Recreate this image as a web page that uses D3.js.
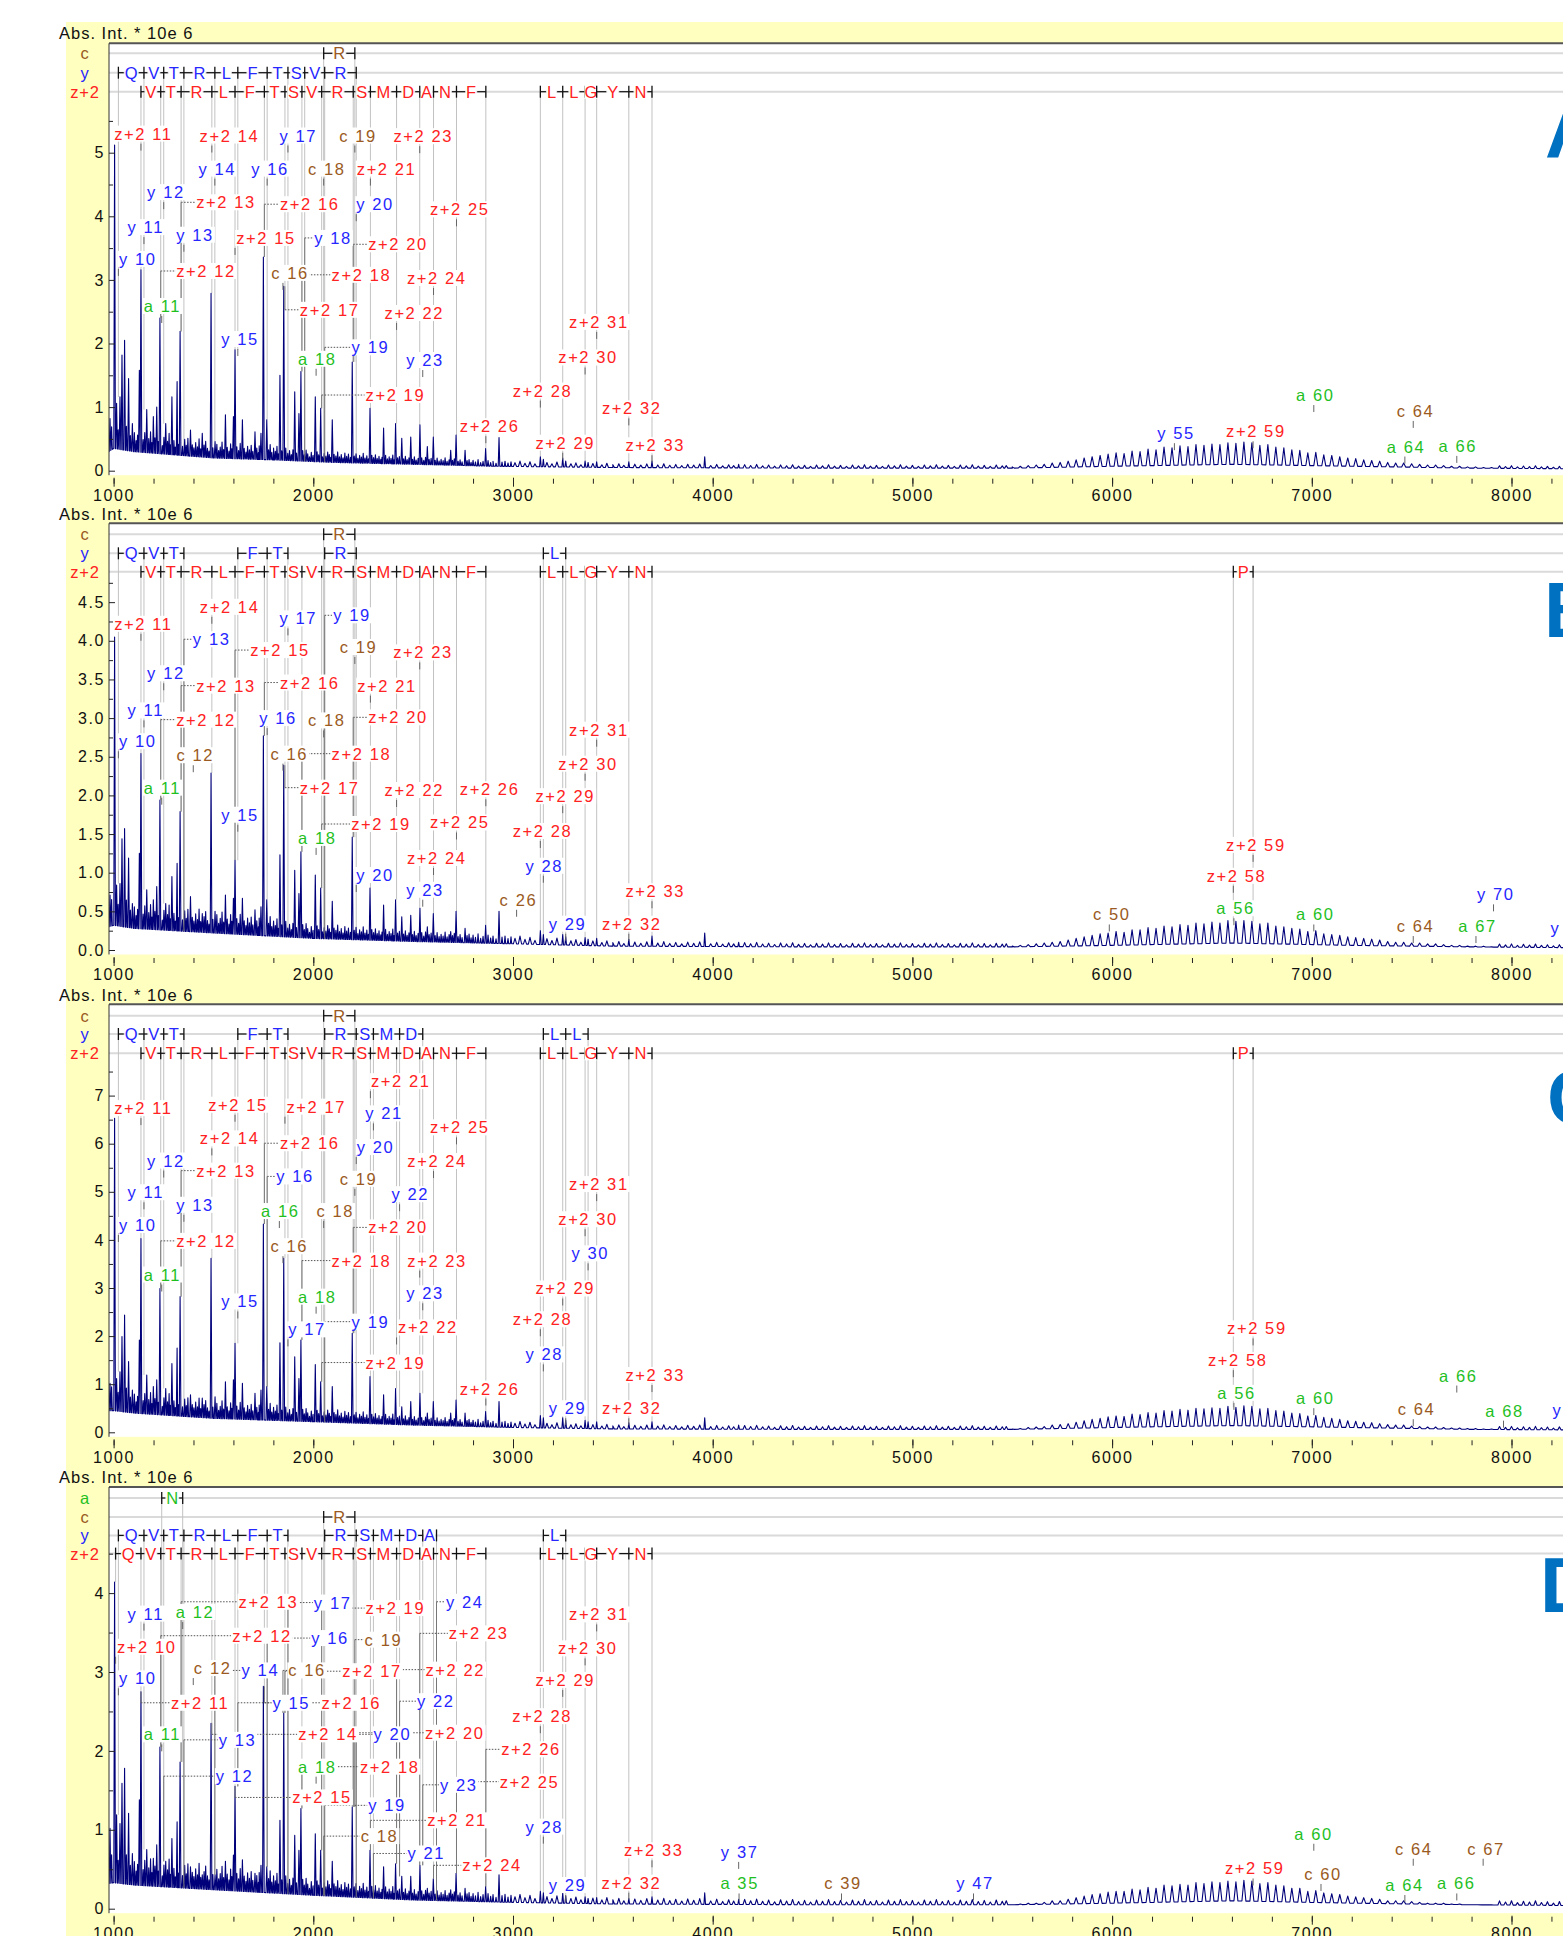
<!DOCTYPE html>
<html lang="en">
<head>
<meta charset="UTF-8">
<title>Fragment ion spectra A-D</title>
<script src="https://d3js.org/d3.v7.min.js"></script>
<style>
  body { margin: 0; background: #fff; }
  svg { display: block; font-family: "Liberation Sans", Arial, sans-serif; }
</style>
</head>
<body>
<script>
const zIons = {10:1010, 11:1137, 12:1236, 13:1338, 14:1492, 15:1608, 16:1755, 17:1858, 18:1943, 19:2042, 20:2200,
  21:2286, 22:2417, 23:2533, 24:2602, 25:2717, 26:2864, 28:3137, 29:3249, 30:3361, 31:3419, 32:3580, 33:3696, 58:6607, 59:6706};
const yIons = {10:1024, 11:1152, 12:1251, 13:1352, 14:1507, 15:1622, 16:1769, 17:1873, 18:1957, 19:2057, 20:2215,
  21:2301, 22:2432, 23:2548, 24:2617, 28:3152, 29:3264, 30:3376, 37:4130, 47:5306, 55:6312, 70:7910, 73:8290};
const cIons = {12:1399, 16:1848, 18:2052, 19:2208, 26:3018, 39:4645, 50:5986, 60:7046, 64:7508, 67:7858};
const aIons = {11:1241, 12:1346, 16:1830, 18:2014, 35:4132, 56:6610, 60:7010, 64:7466, 66:7726, 67:7822, 68:7960};

// residue letter shown between ion n-1 and ion n
const zyResidues = {11:"Q", 12:"V", 13:"T", 14:"R", 15:"L", 16:"F", 17:"T", 18:"S", 19:"V", 20:"R", 21:"S", 22:"M",
  23:"D", 24:"A", 25:"N", 26:"F", 29:"L", 30:"L", 31:"G", 32:"Y", 33:"N", 59:"P"};
const cResidues = {19:"R"};
const aResidues = {12:"N"};

// ions marked in the sequence rows of each panel
const rowsA = {c:[18,19], y:[10,11,12,13,14,15,16,17,18,19,20],
  z:[11,12,13,14,15,16,17,18,19,20,21,22,23,24,25,26,28,29,30,31,32,33]};
const rowsB = {c:[18,19], y:[10,11,12,13,15,16,17,19,20,28,29],
  z:[11,12,13,14,15,16,17,18,19,20,21,22,23,24,25,26,28,29,30,31,32,33,58,59]};
const rowsC = {c:[18,19], y:[10,11,12,13,15,16,17,19,20,21,22,23,28,29,30],
  z:[11,12,13,14,15,16,17,18,19,20,21,22,23,24,25,26,28,29,30,31,32,33,58,59]};
const rowsD = {a:[11,12], c:[18,19], y:[10,11,12,13,14,15,16,17,19,20,21,22,23,24,28,29],
  z:[10,11,12,13,14,15,16,17,18,19,20,21,22,23,24,25,26,28,29,30,31,32,33]};

// ---------- spectra ----------
const forestMz = [982, 1005, 1015, 1032, 1042, 1055, 1075, 1094, 1129, 1137, 1166, 1199, 1216, 1232, 1261, 1292,
  1318, 1333, 1385, 1444, 1488, 1508, 1560, 1600, 1608, 1645, 1708, 1738, 1750, 1767, 1833, 1852, 1907, 1928, 1938,
  2010, 2037, 2095, 2195, 2284, 2352, 2412, 2443, 2488, 2534, 2571, 2601, 2688, 2715, 2760, 2863, 2930,
  3137, 3152, 3249, 3264, 3361, 3376, 3419, 3580, 3696, 3960, 4130];
const forestA = [0.82, 5.12, 1.06, 1.16, 1.82, 2.05, 1.45, 0.74, 1.58, 3.16, 0.96, 0.85, 1.0, 2.4, 0.74, 1.16,
  1.4, 2.19, 0.64, 0.59, 2.79, 0.46, 0.88, 0.85, 1.9, 0.8, 0.61, 0.59, 3.36, 0.8, 1.5, 2.9, 1.24, 0.9, 1.56,
  1.16, 0.98, 0.8, 1.71, 0.98, 0.67, 0.74, 0.51, 0.53, 0.72, 0.38, 0.53, 0.32, 0.56, 0.32, 0.35, 0.52,
  0.22, 0.18, 0.2, 0.15, 0.15, 0.13, 0.14, 0.14, 0.15, 0.22, 0.1];
const forestB = [0.71, 4.05, 0.84, 0.86, 1.44, 1.57, 1.19, 0.6, 1.25, 2.54, 0.78, 0.65, 0.82, 1.94, 0.6, 0.95,
  1.12, 1.79, 0.69, 0.47, 2.29, 0.5, 0.71, 0.67, 1.16, 0.67, 0.52, 0.56, 2.77, 0.65, 1.23, 2.39, 1.03, 0.73, 1.27,
  0.97, 0.8, 0.63, 1.46, 0.8, 0.58, 0.65, 0.43, 0.45, 0.54, 0.3, 0.47, 0.24, 0.5, 0.28, 0.32, 0.5,
  0.25, 0.2, 0.2, 0.17, 0.16, 0.14, 0.15, 0.14, 0.18, 0.22, 0.1];
const forestC = [1.02, 6.53, 1.12, 1.26, 1.99, 2.44, 1.47, 0.88, 1.92, 4.03, 1.19, 0.95, 1.09, 2.99, 0.91, 1.43,
  1.75, 2.82, 0.78, 0.71, 3.62, 0.74, 1.05, 1.09, 1.85, 1.02, 0.81, 0.88, 4.33, 0.95, 1.86, 3.62, 1.57, 1.12, 1.92,
  1.41, 1.05, 0.95, 2.06, 1.16, 0.78, 0.91, 0.53, 0.64, 0.81, 0.4, 0.64, 0.4, 0.67, 0.4, 0.43, 0.64,
  0.35, 0.3, 0.3, 0.25, 0.25, 0.22, 0.22, 0.2, 0.22, 0.3, 0.15];
const forestD = [1.02, 4.14, 1.19, 1.08, 1.59, 1.78, 1.21, 0.7, 1.38, 2.75, 0.75, 0.64, 0.81, 2.05, 0.6, 0.89,
  1.1, 1.86, 0.53, 0.43, 2.35, 0.43, 0.6, 0.68, 1.55, 0.62, 0.45, 0.55, 2.82, 0.53, 1.12, 2.48, 0.93, 0.74, 1.27,
  0.95, 0.74, 0.6, 1.29, 0.74, 0.53, 0.57, 0.41, 0.41, 0.55, 0.26, 0.38, 0.24, 0.45, 0.26, 0.28, 0.43,
  0.22, 0.2, 0.2, 0.16, 0.15, 0.13, 0.14, 0.13, 0.15, 0.2, 0.12];

// the broad envelope of the intact species
const combMz = [5500, 5540, 5580, 5620, 5660, 5700, 5740, 5780, 5820, 5860, 5900, 5940, 5980, 6020, 6060, 6100,
  6140, 6180, 6220, 6260, 6300, 6340, 6380, 6420, 6460, 6500, 6540, 6580, 6620, 6660, 6700, 6740, 6780, 6820,
  6860, 6900, 6940, 6980, 7020, 7060, 7100, 7140, 7180, 7220, 7260, 7300, 7340, 7380, 7420, 7460, 7500, 7540,
  7580, 7620, 7660, 7700, 7740, 7780, 7820, 7860, 7900];
const combA = [0.06, 0.07, 0.08, 0.09, 0.1, 0.12, 0.13, 0.15, 0.17, 0.2, 0.22, 0.24, 0.26, 0.28, 0.27, 0.31,
  0.3, 0.34, 0.33, 0.37, 0.36, 0.39, 0.38, 0.41, 0.4, 0.42, 0.41, 0.44, 0.43, 0.45, 0.44, 0.4, 0.41, 0.37,
  0.36, 0.33, 0.32, 0.28, 0.29, 0.25, 0.24, 0.22, 0.2, 0.19, 0.17, 0.16, 0.15, 0.13, 0.12, 0.12, 0.11, 0.1,
  0.09, 0.09, 0.08, 0.07, 0.07, 0.06, 0.06, 0.05, 0.05];
const combB = [0.05, 0.06, 0.07, 0.08, 0.09, 0.1, 0.11, 0.13, 0.15, 0.17, 0.19, 0.21, 0.22, 0.24, 0.23, 0.26,
  0.26, 0.29, 0.28, 0.31, 0.3, 0.33, 0.32, 0.35, 0.34, 0.36, 0.35, 0.38, 0.37, 0.38, 0.37, 0.34, 0.35, 0.31,
  0.3, 0.28, 0.27, 0.24, 0.25, 0.21, 0.2, 0.19, 0.17, 0.16, 0.15, 0.14, 0.13, 0.11, 0.1, 0.1, 0.09, 0.09,
  0.08, 0.08, 0.07, 0.06, 0.06, 0.05, 0.05, 0.05, 0.04];
const combC = [0.07, 0.08, 0.1, 0.11, 0.12, 0.15, 0.16, 0.18, 0.21, 0.24, 0.27, 0.29, 0.32, 0.34, 0.33, 0.38,
  0.37, 0.41, 0.4, 0.45, 0.44, 0.48, 0.46, 0.5, 0.49, 0.51, 0.5, 0.54, 0.52, 0.55, 0.54, 0.49, 0.5, 0.45,
  0.44, 0.4, 0.39, 0.34, 0.35, 0.31, 0.29, 0.27, 0.24, 0.23, 0.21, 0.2, 0.18, 0.16, 0.15, 0.15, 0.13, 0.12,
  0.11, 0.11, 0.1, 0.09, 0.09, 0.08, 0.08, 0.07, 0.07];
const combD = [0.05, 0.06, 0.07, 0.07, 0.08, 0.1, 0.1, 0.12, 0.14, 0.16, 0.18, 0.19, 0.21, 0.22, 0.22, 0.25,
  0.24, 0.27, 0.26, 0.3, 0.29, 0.31, 0.3, 0.33, 0.32, 0.34, 0.33, 0.35, 0.34, 0.36, 0.35, 0.32, 0.33, 0.3,
  0.29, 0.26, 0.26, 0.22, 0.23, 0.2, 0.19, 0.18, 0.16, 0.15, 0.14, 0.13, 0.12, 0.1, 0.1, 0.1, 0.09, 0.08,
  0.07, 0.07, 0.07, 0.06, 0.06, 0.05, 0.05, 0.05, 0.05];

// noise floor level, [m/z, intensity]
const baseA = [[977,0.3],[1000,0.35],[1100,0.3],[1300,0.25],[1500,0.2],[1800,0.17],[2100,0.13],[2500,0.1],
  [2900,0.07],[3500,0.05],[4500,0.04],[5500,0.04],[6000,0.07],[6600,0.1],[7200,0.07],[7800,0.04],[8300,0.03]];
const baseB = [[977,0.3],[1000,0.32],[1100,0.28],[1500,0.22],[2000,0.15],[2500,0.11],[3000,0.08],[3500,0.05],
  [4500,0.04],[5500,0.04],[6000,0.06],[6600,0.09],[7200,0.06],[7800,0.04],[8300,0.03]];
const baseC = [[977,0.45],[1000,0.45],[1100,0.4],[1500,0.29],[2000,0.22],[2500,0.15],[3000,0.1],[3500,0.07],
  [4500,0.06],[5500,0.06],[6000,0.1],[6600,0.14],[7200,0.1],[7800,0.06],[8300,0.05]];
const baseD = [[977,0.32],[1000,0.33],[1100,0.3],[1500,0.24],[2000,0.17],[2500,0.11],[3000,0.08],[3500,0.06],
  [4500,0.05],[5500,0.05],[6000,0.07],[6600,0.1],[7200,0.07],[7800,0.05],[8300,0.04]];

// small spikes on the noise floor, [m/z, height relative to floor]
const grass = [[990,1.1],[1023,0.9],[1064,1.2],[1084,0.8],[1104,1.0],[1113,0.6],[1120,0.9],[1148,0.7],[1156,1.1],
  [1176,0.8],[1185,1.2],[1192,0.6],[1207,0.9],[1224,0.7],[1244,0.5],[1252,1.0],[1270,0.8],[1278,1.3],[1284,0.6],
  [1302,0.9],[1309,0.5],[1324,0.7],[1345,0.6],[1356,1.1],[1364,0.7],[1372,1.2],[1394,0.8],[1402,0.6],[1411,1.0],
  [1420,0.7],[1428,1.3],[1436,0.6],[1453,0.9],[1461,1.2],[1470,0.7],[1478,0.5],[1497,0.8],[1517,1.1],[1526,0.6],
  [1534,0.9],[1543,1.3],[1551,0.7],[1569,0.9],[1578,0.6],[1586,1.2],[1592,0.8],[1617,1.0],[1626,0.7],[1634,1.3],
  [1654,0.9],[1663,0.6],[1671,1.1],[1680,0.8],[1689,1.2],[1697,0.7],[1717,1.0],[1725,0.6],[1729,1.2],[1776,0.9],
  [1784,1.4],[1792,0.7],[1801,1.1],[1810,0.8],[1818,1.3],[1825,0.6],[1842,0.9],[1862,1.2],[1872,0.7],[1881,1.0],
  [1890,0.6],[1898,1.1],[1916,0.8],[1947,1.1],[1955,0.7],[1964,1.2],[1972,0.8],[1981,0.5],[1990,1.0],[1999,0.7],
  [2019,1.1],[2027,0.8],[2046,0.6],[2055,1.0],[2063,0.7],[2072,1.2],[2080,0.9],[2087,0.6],[2104,1.0],[2113,0.8],
  [2122,1.3],[2131,0.7],[2140,1.0],[2149,0.6],[2158,1.2],[2167,0.8],[2176,1.1],[2186,0.7],[2205,0.9],[2214,1.2],
  [2223,0.6],[2232,1.0],[2241,0.8],[2250,1.3],[2259,0.7],[2268,1.0],[2276,0.6],[2293,1.1],[2302,0.8],[2311,1.2],
  [2320,0.7],[2329,1.0],[2338,0.6],[2344,0.9],[2362,1.2],[2371,0.7],[2380,1.0],[2389,0.8],[2398,1.3],[2404,0.6],
  [2422,0.9],[2431,1.1],[2452,0.8],[2461,1.2],[2470,0.7],[2479,1.0],[2497,0.8],[2506,1.2],[2515,0.7],[2525,1.0],
  [2543,1.1],[2553,0.7],[2562,1.2],[2580,0.9],[2590,1.1],[2610,0.8],[2620,1.2],[2630,0.7],[2640,1.0],[2650,0.8],
  [2660,1.3],[2670,0.7],[2680,1.0],[2697,0.9],[2706,1.2],[2725,0.8],[2735,1.1],[2745,0.7],[2770,1.0],[2780,1.2],
  [2790,0.7],[2800,1.1],[2812,0.8],[2825,1.3],[2838,0.7],[2850,1.0],[2875,1.2],[2888,0.8],[2900,1.1],[2915,0.7],
  [2945,1.0],[2960,1.2],[2975,0.8],[2990,1.1],[3010,0.9],[3035,1.3],[3060,0.8],[3085,1.2],[3110,0.7],[3170,1.1],
  [3195,0.8],[3220,1.3],[3290,0.9],[3315,1.2],[3340,0.7],[3400,1.1],[3445,0.8],[3470,1.3],[3500,0.9],[3530,1.2],
  [3555,0.7],[3610,1.1],[3640,0.8],[3670,1.2],[3725,0.9],[3755,1.3],[3785,0.8],[3815,1.1],[3845,0.7],[3875,1.2],
  [3905,0.9],[3935,1.3],[3990,0.8],[4020,1.2],[4050,0.7],[4080,1.1],[4105,0.8],[4160,1.2],[4190,0.9],[4220,1.3],
  [4250,0.8],[4280,1.1],[4310,0.7],[4340,1.2],[4370,0.9],[4400,1.3],[4430,0.8],[4460,1.1],[4490,0.7],[4520,1.2],
  [4550,0.9],[4580,1.3],[4610,0.8],[4640,1.1],[4670,0.7],[4700,1.2],[4730,0.9],[4760,1.3],[4790,0.8],[4820,1.1],
  [4850,0.7],[4880,1.2],[4910,0.9],[4940,1.3],[4970,0.8],[5000,1.1],[5030,0.7],[5060,1.2],[5090,0.9],[5120,1.3],
  [5150,0.8],[5180,1.1],[5210,0.7],[5240,1.2],[5270,0.9],[5300,1.3],[5330,0.8],[5360,1.1],[5390,0.7],[5420,1.2],
  [5450,0.9],[5470,1.0],[7940,1.1],[7970,0.8],[8000,1.2],[8030,0.7],[8060,1.1],[8090,0.9],[8120,1.3],[8150,0.8],
  [8180,1.1],[8210,0.7],[8240,1.2],[8270,0.9]];

// ---------- peak annotations: [ion type, number, label level, label centre m/z, dotted leader] ----------
const labelsA = [
  ["z",11,5.3,1149], ["z",14,5.27,1580], ["y",17,5.27,1925], ["c",19,5.27,2224], ["z",23,5.26,2551],
  ["y",14,4.75,1519], ["y",16,4.75,1783], ["c",18,4.75,2067], ["z",21,4.75,2367],
  ["y",12,4.38,1262], ["z",13,4.22,1563,1], ["z",16,4.19,1982,1], ["y",20,4.19,2309], ["z",25,4.11,2733],
  ["y",11,3.83,1161], ["y",13,3.71,1408], ["z",15,3.66,1763], ["y",18,3.66,2099,1], ["z",20,3.56,2424,1],
  ["y",10,3.33,1121], ["z",12,3.14,1463,1], ["c",16,3.11,1883], ["z",18,3.08,2241,1], ["z",24,3.03,2618],
  ["a",11,2.59,1244], ["z",17,2.53,2082,1], ["z",22,2.48,2506], ["z",31,2.34,3430],
  ["y",15,2.07,1633], ["y",19,1.94,2286,1], ["a",18,1.76,2020], ["y",23,1.74,2559], ["z",30,1.78,3376],
  ["z",19,1.19,2411,1], ["z",28,1.26,3148], ["z",32,0.98,3595], ["z",26,0.70,2883], ["z",29,0.44,3262],
  ["z",33,0.40,3712], ["y",55,0.59,6320], ["z",59,0.62,6720], ["a",60,1.19,7017], ["c",64,0.94,7519],
  ["a",64,0.38,7472], ["a",66,0.39,7731]];
const labelsB = [
  ["z",14,4.44,1581], ["z",11,4.22,1149], ["y",17,4.29,1925], ["y",19,4.33,2194,1], ["y",13,4.02,1491,1],
  ["z",15,3.88,1833,1], ["c",19,3.92,2226], ["z",23,3.85,2549], ["y",12,3.58,1262], ["z",13,3.42,1563,1],
  ["z",16,3.46,1982,1], ["z",21,3.42,2369], ["y",11,3.1,1161], ["z",12,2.98,1463,1], ["y",16,3.0,1823],
  ["c",18,2.97,2067], ["z",20,3.01,2424,1], ["y",10,2.7,1121], ["c",12,2.52,1409], ["c",16,2.54,1880],
  ["z",18,2.54,2241,1], ["a",11,2.1,1244], ["z",17,2.1,2082,1], ["z",22,2.07,2506], ["z",26,2.08,2883],
  ["y",15,1.75,1633], ["z",19,1.63,2339,1], ["z",25,1.65,2733], ["a",18,1.45,2020], ["z",24,1.19,2618],
  ["y",20,0.97,2309], ["y",23,0.78,2559], ["c",26,0.65,3027],
  ["z",31,2.85,3430], ["z",30,2.41,3376], ["z",29,1.99,3262], ["z",28,1.54,3148], ["y",28,1.09,3157],
  ["z",33,0.76,3712], ["y",29,0.34,3273], ["z",32,0.34,3595],
  ["c",50,0.46,5998], ["z",59,1.36,6720], ["z",58,0.96,6623], ["a",56,0.54,6618], ["a",60,0.46,7017],
  ["y",70,0.72,7921], ["c",64,0.31,7519], ["a",67,0.31,7830], ["y",73,0.29,8290]];
const labelsC = [
  ["z",21,7.3,2438], ["z",11,6.74,1149], ["z",15,6.81,1623], ["z",17,6.77,2015], ["y",21,6.63,2354],
  ["z",25,6.34,2733], ["z",14,6.11,1581], ["z",16,6.01,1982,1], ["y",20,5.93,2312], ["y",12,5.65,1262],
  ["z",24,5.64,2620], ["z",13,5.44,1563,1], ["y",16,5.32,1908,1], ["c",19,5.27,2226], ["y",22,4.95,2486],
  ["y",11,4.99,1161], ["y",13,4.73,1408], ["a",16,4.6,1835], ["c",18,4.6,2110], ["y",10,4.31,1121],
  ["z",20,4.26,2424,1], ["z",12,3.98,1463,1], ["c",16,3.87,1880], ["z",18,3.57,2241,1], ["z",23,3.57,2620],
  ["a",11,3.28,1244], ["y",23,2.89,2559], ["a",18,2.82,2020], ["y",15,2.72,1633], ["y",19,2.3,2286,1],
  ["y",17,2.14,1969], ["z",22,2.18,2574], ["z",19,1.45,2411,1], ["z",26,0.91,2883],
  ["z",31,5.16,3430], ["z",30,4.43,3376], ["y",30,3.72,3387], ["z",29,2.99,3262], ["z",28,2.35,3148],
  ["y",28,1.62,3157], ["z",33,1.19,3712], ["y",29,0.5,3273], ["z",32,0.5,3595],
  ["z",59,2.16,6725], ["z",58,1.5,6629], ["a",56,0.82,6623], ["a",60,0.71,7017], ["a",66,1.18,7734],
  ["c",64,0.48,7524], ["a",68,0.45,7965], ["y",73,0.46,8300]];
const labelsD = [
  ["z",13,3.89,1775,1], ["y",17,3.88,2097,1], ["z",19,3.81,2411,1], ["y",24,3.89,2758,1], ["y",11,3.74,1161],
  ["a",12,3.76,1408], ["z",12,3.46,1743,1], ["y",16,3.43,2084,1], ["c",19,3.41,2351,1], ["z",23,3.49,2828,1],
  ["z",10,3.32,1166], ["y",10,2.92,1121], ["c",12,3.05,1496], ["y",14,3.02,1735,1], ["c",16,3.02,1969,1],
  ["z",17,3.01,2294,1], ["z",22,3.03,2711,1], ["z",11,2.61,1433,1], ["y",15,2.61,1890,1], ["z",16,2.61,2190,1],
  ["y",22,2.63,2613,1], ["a",11,2.21,1244], ["y",13,2.14,1621,1], ["z",14,2.21,2074,1], ["y",20,2.21,2396,1],
  ["z",20,2.23,2708,1], ["y",12,1.68,1606,1], ["a",18,1.8,2020], ["z",18,1.8,2383,1], ["y",23,1.57,2728,1],
  ["z",15,1.41,2044,1], ["y",19,1.31,2369,1], ["z",21,1.12,2720,1], ["c",18,0.92,2332,1], ["y",21,0.7,2566,1],
  ["z",24,0.55,2895,1], ["z",26,2.02,3090,1], ["z",25,1.61,3083,1],
  ["z",31,3.73,3430], ["z",30,3.3,3374], ["z",29,2.9,3262], ["z",28,2.44,3146], ["y",28,1.04,3157],
  ["z",33,0.74,3705], ["y",29,0.3,3273], ["z",32,0.33,3593],
  ["y",37,0.72,4135], ["a",35,0.32,4135], ["c",39,0.32,4653], ["y",47,0.32,5314],
  ["z",59,0.51,6714], ["a",60,0.95,7009], ["c",60,0.44,7056], ["c",64,0.76,7511], ["c",67,0.76,7872],
  ["a",64,0.3,7464], ["a",66,0.32,7723]];

// axis ticks
const xTicks = [1000, 2000, 3000, 4000, 5000, 6000, 7000, 8000];
const ticksA = [0, 1, 2, 3, 4, 5];
const ticksB = [0, 0.5, 1, 1.5, 2, 2.5, 3, 3.5, 4, 4.5];
const ticksC = [0, 1, 2, 3, 4, 5, 6, 7];
const ticksD = [0, 1, 2, 3, 4];

// ---------- layout ----------
const W = 1563, H = 1936, LEFT = 109;
const panels = [
  {name:"A", titleY:33, top:43.3, rowY:{c:53.3, y:72.7, z:91.7}, y0:470.7, unit:63.6, ticks:ticksA, fmt:"d",
   rows:rowsA, labels:labelsA, forest:forestA, comb:combA, base:baseA, letter:[1545, 158]},
  {name:"B", titleY:514, top:523.3, rowY:{c:534.3, y:553.3, z:571.7}, y0:950, unit:77.3, ticks:ticksB, fmt:".1f",
   rows:rowsB, labels:labelsB, forest:forestB, comb:combB, base:baseB, letter:[1544, 637]},
  {name:"C", titleY:995, top:1004.3, rowY:{c:1015.7, y:1034, z:1053.3}, y0:1432.3, unit:48.1, ticks:ticksC, fmt:"d",
   rows:rowsC, labels:labelsC, forest:forestC, comb:combC, base:baseC, letter:[1547, 1124]},
  {name:"D", titleY:1477, top:1487, rowY:{a:1498, c:1517, y:1535.4, z:1553.6}, y0:1908.7, unit:78.9, ticks:ticksD, fmt:"d",
   rows:rowsD, labels:labelsD, forest:forestD, comb:combD, base:baseD, letter:[1540, 1612]}
];

const colors = {a:"#1fbf1f", c:"#9a5a22", y:"#2626ff", z:"#ff2222"};
const prefix = {a:"a", c:"c", y:"y", z:"z+2"};
const ionMz = {a:aIons, c:cIons, y:yIons, z:zIons};
const residues = {a:aResidues, c:cResidues, y:zyResidues, z:zyResidues};

const x = d3.scaleLinear().domain([1000, 8000]).range([113.6, 1511.5]);

const svg = d3.select("body").append("svg").attr("width", W).attr("height", H);
svg.append("rect").attr("width", W).attr("height", H).attr("fill", "#fff");
svg.append("rect").attr("x", 66).attr("y", 22).attr("width", W - 66).attr("height", H - 22).attr("fill", "#ffffc0");

panels.forEach(drawPanel);

function drawPanel(p) {
  const g = svg.append("g");
  const ys = d3.scaleLinear().domain([0, 1]).range([p.y0, p.y0 - p.unit]);
  const bottom = p.y0 + 4.5;
  const baseAt = d3.scaleLinear().domain(p.base.map(d => d[0])).range(p.base.map(d => d[1]));

  g.append("rect").attr("x", LEFT).attr("y", p.top).attr("width", W - LEFT).attr("height", bottom - p.top)
    .attr("fill", "#fff");
  svg.append("clipPath").attr("id", "clip" + p.name).append("rect")
    .attr("x", LEFT).attr("y", p.top).attr("width", W - LEFT).attr("height", bottom - p.top);
  const plot = g.append("g").attr("clip-path", `url(#clip${p.name})`);

  const peaks = forestMz.map((m, i) => [m, p.forest[i]]).concat(combMz.map((m, i) => [m, p.comb[i]]));
  const peakTop = m => {
    let best = null;
    peaks.forEach(([pm, h]) => { if (Math.abs(pm - m) <= 14 && (best === null || h > best)) best = h; });
    return best === null ? baseAt(m) : best;
  };

  const rowKeys = Object.keys(p.rowY);

  // sequence row guide lines
  rowKeys.forEach(t => {
    plot.append("line").attr("x1", LEFT).attr("x2", W).attr("y1", p.rowY[t]).attr("y2", p.rowY[t])
      .attr("stroke", "#dadada").attr("stroke-width", 2);
  });
  // ion lines from the rows down to the peaks
  rowKeys.forEach(t => {
    p.rows[t].forEach(n => {
      const m = ionMz[t][n];
      plot.append("line").attr("x1", x(m)).attr("x2", x(m)).attr("y1", p.rowY[t]).attr("y2", ys(peakTop(m)))
        .attr("stroke", "#c2c2c2").attr("stroke-width", 1);
    });
  });

  // spectrum trace
  const pts = p.base.map(d => [d[0], d[1]]);
  forestMz.forEach((m, i) => pts.push([m - 4, baseAt(m - 4)], [m, p.forest[i]], [m + 4, baseAt(m + 4)]));
  grass.forEach(([m, r]) => {
    const w = m < 3000 ? 3.5 : 8;
    pts.push([m - w, baseAt(m - w)], [m, baseAt(m) * (1 + r)], [m + w, baseAt(m + w)]);
  });
  combMz.forEach((m, i) => pts.push([m - 10, baseAt(m - 10)], [m, p.comb[i]], [m + 10, baseAt(m + 10)]));
  pts.sort((a, b) => a[0] - b[0]);
  plot.append("path")
    .attr("d", d3.line().x(d => x(d[0])).y(d => ys(d[1]))(pts))
    .attr("fill", "none").attr("stroke", "#00007a").attr("stroke-width", 1.1).attr("stroke-linejoin", "round");

  // annotations
  const under = g.append("g"), over = g.append("g");
  p.labels.forEach(([t, n, lev, cm, lead]) => {
    const m = ionMz[t][n], xi = x(m), yl = ys(lev);
    const txt = over.append("text").attr("x", x(cm)).attr("y", yl)
      .attr("text-anchor", "middle").attr("dominant-baseline", "central")
      .attr("fill", colors[t]).attr("font-size", 16.5).attr("letter-spacing", 1.6)
      .text(`${prefix[t]} ${n}`);
    const bb = txt.node().getBBox();
    over.insert("rect", () => txt.node()).attr("x", bb.x - 1).attr("y", bb.y + 1)
      .attr("width", bb.width + 2).attr("height", bb.height - 2).attr("fill", "#fff");
    if (lead) {
      under.append("line").attr("x1", xi).attr("x2", bb.x).attr("y1", yl).attr("y2", yl)
        .attr("stroke", "#555").attr("stroke-width", 1).attr("stroke-dasharray", "1.5,1.5");
      under.append("line").attr("x1", xi).attr("x2", xi).attr("y1", yl).attr("y2", ys(peakTop(m)))
        .attr("stroke", "#777").attr("stroke-width", 1);
    } else {
      under.append("line").attr("x1", xi).attr("x2", xi).attr("y1", yl + 10).attr("y2", yl + 17)
        .attr("stroke", "#666").attr("stroke-width", 1);
    }
  });

  // sequence rows: ticks, connectors and residues
  rowKeys.forEach(t => {
    const ry = p.rowY[t], list = p.rows[t], rg = g.append("g");
    list.forEach((n, i) => {
      const xa = x(ionMz[t][n]);
      rg.append("line").attr("x1", xa).attr("x2", xa).attr("y1", ry - 6).attr("y2", ry + 6)
        .attr("stroke", "#111").attr("stroke-width", 1.3);
      const nx = list[i + 1];
      if (nx === n + 1) {
        const xb = x(ionMz[t][nx]);
        const lt = rg.append("text").attr("x", (xa + xb) / 2).attr("y", ry)
          .attr("text-anchor", "middle").attr("dominant-baseline", "central")
          .attr("fill", colors[t]).attr("font-size", 16.5).text(residues[t][nx]);
        const bb = lt.node().getBBox();
        rg.insert("rect", () => lt.node()).attr("x", bb.x).attr("y", bb.y + 2)
          .attr("width", bb.width).attr("height", bb.height - 4).attr("fill", "#fff");
        if (bb.x - 1 > xa + 1) rg.append("line").attr("x1", xa).attr("x2", bb.x - 1).attr("y1", ry).attr("y2", ry)
          .attr("stroke", "#111").attr("stroke-width", 1.2);
        if (xb - 1 > bb.x + bb.width + 1) rg.append("line").attr("x1", bb.x + bb.width + 1).attr("x2", xb)
          .attr("y1", ry).attr("y2", ry).attr("stroke", "#111").attr("stroke-width", 1.2);
      }
    });
    g.append("text").attr("x", 85).attr("y", ry).attr("text-anchor", "middle").attr("dominant-baseline", "central")
      .attr("fill", colors[t]).attr("font-size", 16.5).attr("letter-spacing", 0.8).text(prefix[t]);
  });

  // frame
  g.append("line").attr("x1", LEFT).attr("x2", W).attr("y1", p.top).attr("y2", p.top)
    .attr("stroke", "#555").attr("stroke-width", 2);
  g.append("line").attr("x1", LEFT).attr("x2", LEFT).attr("y1", p.top).attr("y2", bottom)
    .attr("stroke", "#333").attr("stroke-width", 1);

  // y axis
  const step = p.ticks[1] - p.ticks[0];
  const yAxis = g.append("g").attr("transform", `translate(${LEFT},0)`)
    .call(d3.axisLeft(ys).tickValues(p.ticks).tickFormat(d3.format(p.fmt)).tickSize(-6).tickPadding(4));
  const yMinor = g.append("g").attr("transform", `translate(${LEFT},0)`)
    .call(d3.axisLeft(ys).tickValues(p.ticks.map(v => v + step / 2)).tickFormat("").tickSize(-4));

  // x axis
  const xMinor = g.append("g").attr("transform", `translate(0,${p.y0 + 8})`)
    .call(d3.axisBottom(x).tickValues(d3.range(1000, 8300, 200)).tickFormat("").tickSize(5));
  const xAxis = g.append("g").attr("transform", `translate(0,${p.y0 + 7})`)
    .call(d3.axisBottom(x).tickValues(xTicks).tickFormat(d3.format("d")).tickSize(9).tickPadding(3));

  [yAxis, yMinor, xMinor, xAxis].forEach(a => {
    a.select(".domain").remove();
    a.selectAll("line").attr("stroke", "#222");
    a.selectAll("text").attr("font-size", 16).attr("letter-spacing", 1.6).attr("fill", "#111")
      .attr("font-family", "'Liberation Sans', Arial, sans-serif");
  });

  // title and panel letter
  g.append("text").attr("x", 59).attr("y", p.titleY).attr("dominant-baseline", "central")
    .attr("font-size", 16.5).attr("letter-spacing", 1).attr("fill", "#111").text("Abs. Int. * 10e 6");
  g.append("text").attr("x", p.letter[0]).attr("y", p.letter[1]).attr("font-size", 78).attr("font-weight", "bold")
    .attr("fill", "#0070c0").text(p.name);
}
</script>
</body>
</html>
